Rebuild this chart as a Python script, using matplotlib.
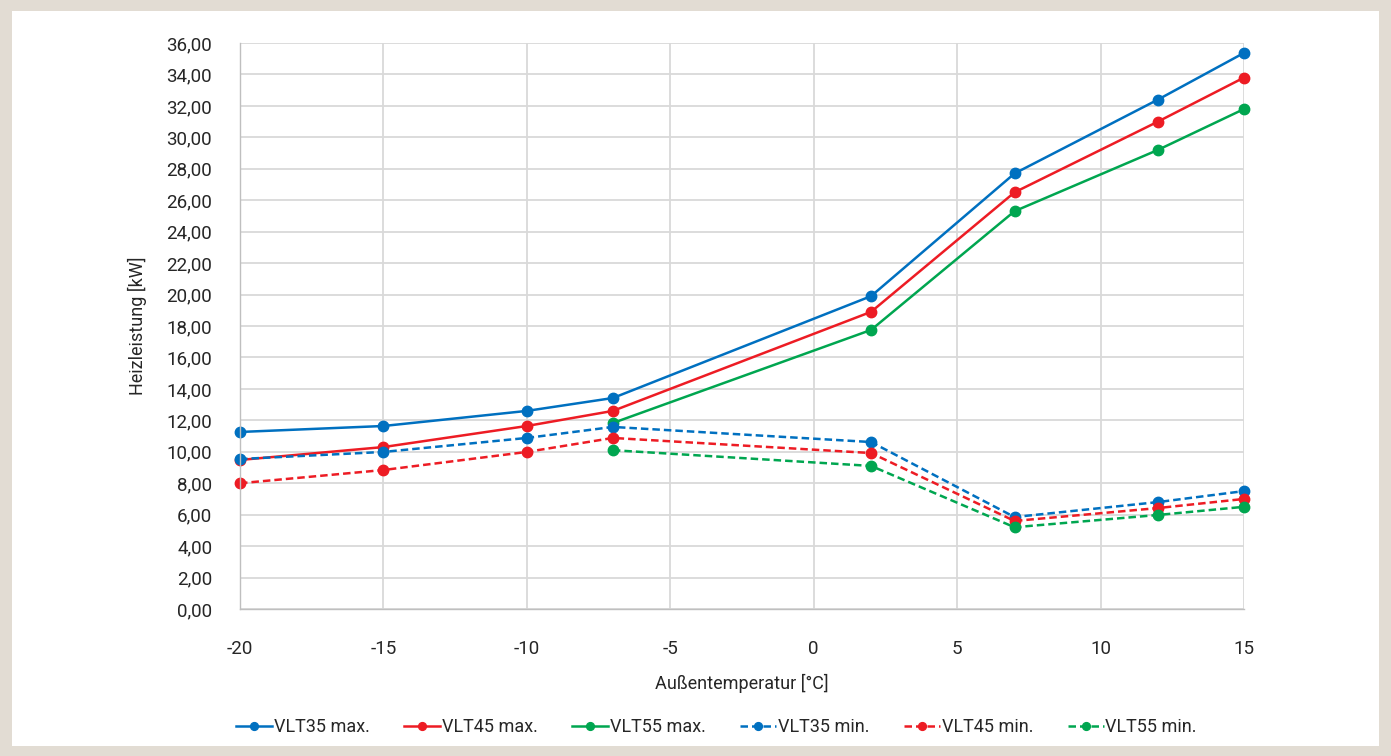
import matplotlib
matplotlib.use("Agg")
import matplotlib.pyplot as plt
from matplotlib.patches import Rectangle
from matplotlib.ticker import FuncFormatter

plt.rcParams['font.family'] = ['Liberation Sans Narrow', 'Roboto', 'DejaVu Sans']
plt.rcParams['axes.unicode_minus'] = False

temps = [-20, -15, -10, -7, 2, 7, 12, 15]
temps55 = [-7, 2, 7, 12, 15]
vlt35_max = [11.26, 11.64, 12.60, 13.42, 19.90, 27.70, 32.40, 35.37]
vlt45_max = [9.48, 10.30, 11.64, 12.60, 18.90, 26.50, 31.00, 33.80]
vlt55_max = [11.83, 17.75, 25.30, 29.20, 31.80]
vlt35_min = [9.54, 9.99, 10.88, 11.58, 10.62, 5.85, 6.80, 7.50]
vlt45_min = [8.00, 8.84, 9.99, 10.88, 9.92, 5.60, 6.42, 7.00]
vlt55_min = [10.10, 9.10, 5.20, 5.98, 6.50]

blue = '#0070c0'
red = '#ed1c24'
green = '#00a650'

fig = plt.figure(figsize=(13.91, 7.56), dpi=100)
fig.patch.set_facecolor('#e2dcd3')
fig.patches.append(Rectangle((12/1391, 10/756), 1 - 24/1391, 1 - 21/756,
                             transform=fig.transFigure, facecolor='white',
                             edgecolor='none', zorder=-10))

ax = fig.add_axes([240/1391, 1 - 609/756, (1244 - 240)/1391, (609 - 43)/756])
ax.set_zorder(1)
ax.set_facecolor('white')

kw = dict(marker='o', markersize=7.5, linewidth=1.8, clip_on=False)
ax.plot(temps, vlt35_max, color=blue, label='VLT35 max.', **kw)
ax.plot(temps, vlt45_max, color=red, label='VLT45 max.', **kw)
ax.plot(temps55, vlt55_max, color=green, label='VLT55 max.', **kw)
ax.plot(temps, vlt35_min, color=blue, linestyle=(0, (3, 1.6)), label='VLT35 min.', **kw)
ax.plot(temps, vlt45_min, color=red, linestyle=(0, (3, 1.6)), label='VLT45 min.', **kw)
ax.plot(temps55, vlt55_min, color=green, linestyle=(0, (3, 1.6)), label='VLT55 min.', **kw)

ax.set_xlim(-20, 15)
ax.set_ylim(0, 36)
ax.set_xticks(range(-20, 16, 5))
ax.set_yticks(range(0, 37, 2))
ax.yaxis.set_major_formatter(FuncFormatter(lambda v, p: f"{v:.2f}".replace('.', ',')))
ax.grid(True, color='#d9d9d9', linewidth=1.3)
ax.set_axisbelow(True)
for s in ['top', 'right']:
    ax.spines[s].set_visible(False)
for s in ['left', 'bottom']:
    ax.spines[s].set_color('#bfbfbf')
    ax.spines[s].set_linewidth(1.0)
ax.tick_params(axis='both', length=0, labelsize=13.5, colors='#262626')
ax.tick_params(axis='y', pad=20)
ax.tick_params(axis='x', pad=22)

ax.set_xlabel('Außentemperatur [°C]', fontsize=13, color='#262626', labelpad=12)
ax.set_ylabel('Heizleistung [kW]', fontsize=13, color='#262626', labelpad=14)

fig.legend(loc='center', bbox_to_anchor=(0.515, 1 - 727/756), ncol=6, frameon=False,
           fontsize=13, handlelength=2.0, handletextpad=0.1, columnspacing=1.9,
           markerscale=0.75, labelcolor='#262626')

fig.savefig('out.png', dpi=100, facecolor=fig.get_facecolor())
